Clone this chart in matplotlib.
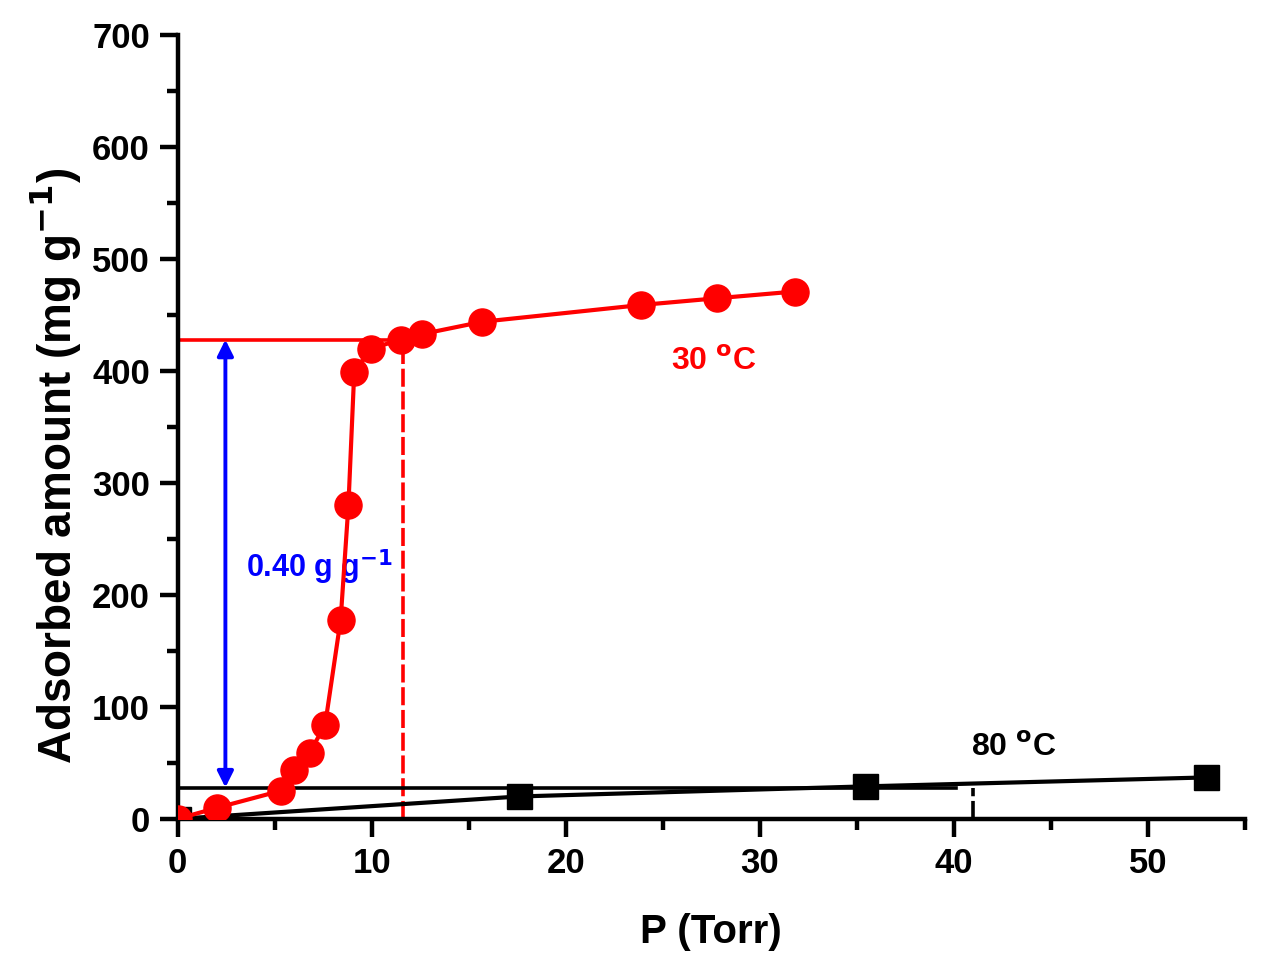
import matplotlib
matplotlib.use("Agg")
import matplotlib.pyplot as plt
from matplotlib.ticker import MultipleLocator

plt.rcParams["font.family"] = ["Liberation Sans", "DejaVu Sans"]
plt.rcParams["font.weight"] = "bold"

# 30 C isotherm (red circles)
p30 = [0.0, 2.05, 5.3, 6.0, 6.8, 7.6, 8.4, 8.8, 9.1, 9.95, 11.5, 12.6, 15.7, 23.9, 27.8, 31.8]
q30 = [0, 10, 25, 44, 59, 84, 178, 280, 399, 420, 428, 433, 444, 459, 465, 471]
# 80 C isotherm (black squares)
p80 = [0.0, 17.6, 35.4, 53.0]
q80 = [0, 20, 29, 37]

# working capacity guides
q_hi, p_hi = 428, 11.6
q_lo, p_lo = 28, 41.0
p_arrow = 2.46

fig = plt.figure(figsize=(12.69, 9.76), dpi=100)
ax = fig.add_axes([0.140, 0.161, 0.841, 0.803])

ax.plot(p80, q80, "-s", color="black", lw=3.0, ms=18.0, zorder=3)
ax.plot(p30, q30, "-o", color="red", lw=3.0, ms=19.5, zorder=4)

ax.plot([0, p_hi], [q_hi, q_hi], color="red", lw=2.6, zorder=2)
ax.plot([p_hi, p_hi], [0, q_hi], color="red", lw=2.6, ls=(0, (5, 1.3)), zorder=2)
ax.plot([0, p_lo - 0.9], [q_lo, q_lo], color="black", lw=2.6, zorder=2)
ax.plot([p_lo, p_lo], [0, q_lo], color="black", lw=2.6, ls=(0, (5, 1.3)), zorder=2)

ax.annotate("", xy=(p_arrow, q_hi), xytext=(p_arrow, q_lo),
            arrowprops=dict(arrowstyle="<|-|>", color="blue", lw=2.8,
                            mutation_scale=24, shrinkA=0, shrinkB=0))

ax.text(3.5, 225, "0.40 g g$^{\\mathbf{-1}}$", color="blue", fontsize=22,
        fontweight="bold", va="center", ha="left")
ax.text(27.6, 408, "30 $^{\\mathbf{o}}$C", color="red", fontsize=23,
        fontweight="bold", va="center", ha="center")
ax.text(43.1, 63, "80 $^{\\mathbf{o}}$C", color="black", fontsize=23,
        fontweight="bold", va="center", ha="center")

ax.set_xlim(0, 55)
ax.set_ylim(0, 700)
ax.xaxis.set_major_locator(MultipleLocator(10))
ax.xaxis.set_minor_locator(MultipleLocator(5))
ax.yaxis.set_major_locator(MultipleLocator(100))
ax.yaxis.set_minor_locator(MultipleLocator(50))

for s in ["top", "right"]:
    ax.spines[s].set_visible(False)
for s in ["left", "bottom"]:
    ax.spines[s].set_linewidth(3.2)
ax.tick_params(which="major", direction="out", length=13, width=3.2, labelsize=25, pad=7)
ax.tick_params(which="minor", direction="out", length=8, width=3.2)
for lab in ax.get_xticklabels() + ax.get_yticklabels():
    lab.set_fontweight("bold")

ax.set_xlabel("P (Torr)", fontsize=29, fontweight="bold", labelpad=24)
ax.set_ylabel("Adsorbed amount (mg g$^{\\mathbf{-1}}$)", fontsize=33,
              fontweight="bold")
ax.yaxis.set_label_coords(-0.088, 0.45)

fig.savefig("out.png", dpi=100)
